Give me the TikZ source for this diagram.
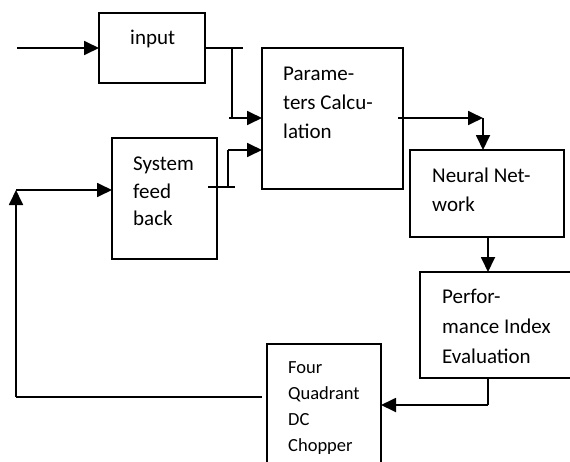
\documentclass[tikz,border=0pt]{standalone}
\usepackage{fontspec}
\setmainfont{Carlito}
\usetikzlibrary{arrows.meta}
\begin{document}
\begin{tikzpicture}[x=1pt,y=-1pt,
  blk/.style={draw, line width=1.8pt, rectangle, inner sep=0pt, outer sep=0pt, anchor=north west},
  con/.style={line width=1.8pt},
  arr/.style={line width=1.8pt, -{Triangle[length=15pt,width=14pt]}},
  txt/.style={anchor=base west, align=left, inner sep=0pt, font=\fontsize{21}{29.5}\selectfont},
  txts/.style={anchor=base west, align=left, inner sep=0pt, font=\fontsize{18.5}{26}\selectfont}]
\useasboundingbox (0,0) rectangle (570,461);
% boxes
\node[blk, minimum width=106pt, minimum height=70pt] (input) at (99,13) {};
\node[blk, minimum width=141pt, minimum height=141pt] (param) at (262,48) {};
\node[blk, minimum width=105pt, minimum height=121pt] (sys) at (112,138) {};
\node[blk, minimum width=154pt, minimum height=87pt] (neural) at (410,150) {};
\node[blk, minimum width=154pt, minimum height=106pt] (perf) at (420,272) {};
\node[blk, minimum width=114pt, minimum height=125pt] (chop) at (267,344) {};
% texts (anchor = baseline of last line)
\node[txt] (inputt) at (130,44) {input};
\node[txt, font=\fontsize{21}{29}\selectfont] (paramt) at (283,138.5) {Parame-\\ters Calcu-\\lation};
\node[txt, font=\fontsize{21}{27.5}\selectfont] (syst) at (133,225.5) {System\\feed\\back};
\node[txt, font=\fontsize{21}{29}\selectfont] (neuralt) at (432,211) {Neural Net-\\work};
\node[txt, font=\fontsize{21}{30}\selectfont] (perft) at (442,363) {Perfor-\\mance Index\\Evaluation};
\node[txts] (chopt) at (288,451) {Four\\Quadrant\\DC\\Chopper};
% coordinates
\coordinate (src) at (17,48);
\coordinate (ie) at (243,48);
\coordinate (j1) at (232,48);
\coordinate (j2) at (232,118);
\coordinate (j2s) at (229,118);
\coordinate (f1) at (208,187);
\coordinate (f2) at (235,187);
\coordinate (f3) at (228,187);
\coordinate (f4) at (228,150);
\coordinate (p1) at (398,118);
\coordinate (p2) at (483,118);
\coordinate (q1) at (488,378);
\coordinate (q2) at (488,405);
\coordinate (c1) at (262,397);
\coordinate (c2) at (16,397);
\coordinate (c3) at (16,190);
% connectors
\draw[arr] (src) -- (input.west);
\draw[con] (input.east) -- (ie);
\draw[con] (j1) -- (j2);
\draw[arr] (j2s) -- (param.west |- j2s);
\draw[con] (f1) -- (f2);
\draw[con] (f3) -- (f4);
\draw[arr] (f4) -- (param.west |- f4);
\draw[arr] (p1) -- (p2);
\draw[arr] (p2) -- (p2 |- neural.north);
\draw[arr] (neural.south -| q1) -- (q1 |- perf.north);
\draw[con] (q1) -- (q2);
\draw[arr] (q2) -- (chop.east |- q2);
\draw[con] (c1) -- (c2);
\draw[arr] (c2) -- (c3);
\draw[arr] (c3) -- (sys.west |- c3);
\end{tikzpicture}
\end{document}
